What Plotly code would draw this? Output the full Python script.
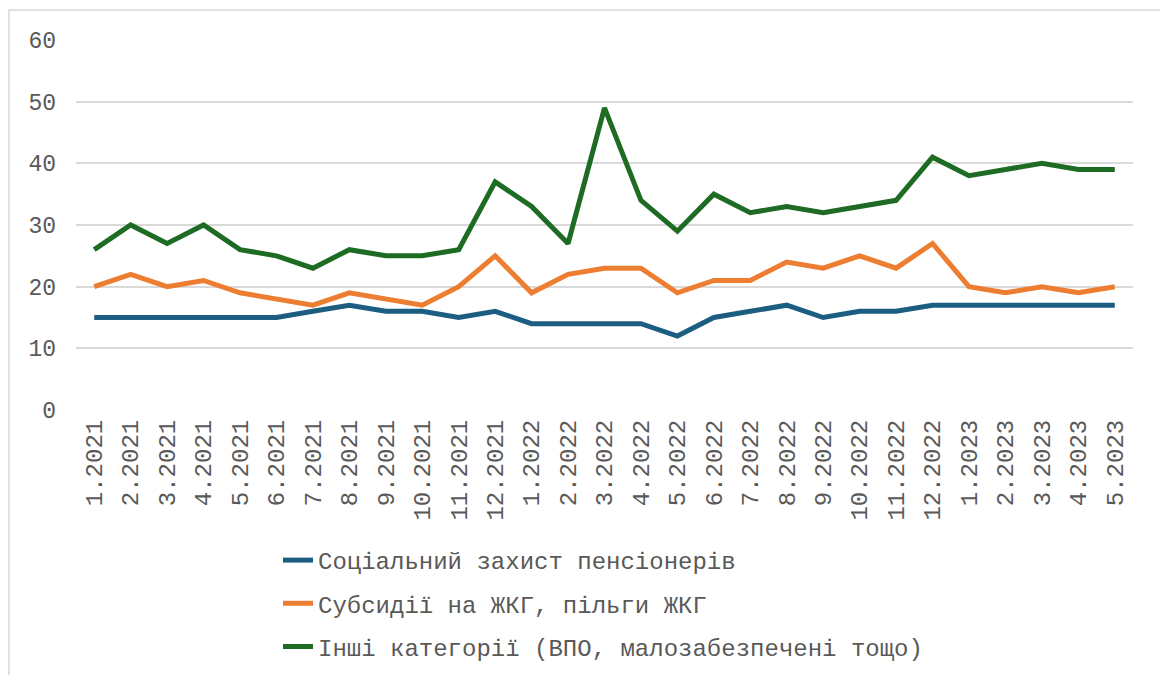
import plotly.graph_objects as go

categories = ["1.2021", "2.2021", "3.2021", "4.2021", "5.2021", "6.2021", "7.2021", "8.2021",
              "9.2021", "10.2021", "11.2021", "12.2021", "1.2022", "2.2022", "3.2022", "4.2022",
              "5.2022", "6.2022", "7.2022", "8.2022", "9.2022", "10.2022", "11.2022", "12.2022",
              "1.2023", "2.2023", "3.2023", "4.2023", "5.2023"]

pensioners = [15, 15, 15, 15, 15, 15, 16, 17, 16, 16, 15, 16, 14, 14, 14, 14, 12, 15, 16, 17,
              15, 16, 16, 17, 17, 17, 17, 17, 17]
subsidies = [20, 22, 20, 21, 19, 18, 17, 19, 18, 17, 20, 25, 19, 22, 23, 23, 19, 21, 21, 24,
             23, 25, 23, 27, 20, 19, 20, 19, 20]
others = [26, 30, 27, 30, 26, 25, 23, 26, 25, 25, 26, 37, 33, 27, 49, 34, 29, 35, 32, 33,
          32, 33, 34, 41, 38, 39, 40, 39, 39]

names = ["Соціальний захист пенсіонерів",
         "Субсидії на ЖКГ, пільги ЖКГ",
         "Інші категорії (ВПО, малозабезпечені тощо)"]
colors = ["#1B5E82", "#ED7D31", "#1E6B24"]
yticks = [0, 10, 20, 30, 40, 50, 60]

FONT = "Courier New, Liberation Mono, monospace"
TXT = "#595959"

# page body has an 8px margin; figure is sized/positioned to compensate
W, H = 1160, 667
L, R, T, B = 68, 35, 32, 265
PW, PH = W - L - R, H - T - B

fig = go.Figure()
for i, (nm, vals, col) in enumerate(zip(names, [pensioners, subsidies, others], colors)):
    fig.add_trace(go.Scatter(
        x=categories, y=vals, name=nm, mode="lines",
        line=dict(color=col, width=5),
        legendgroup=f"g{i}",
    ))

fig.update_layout(
    width=W, height=H,
    margin=dict(l=L, r=R, t=T, b=B, autoexpand=False),
    paper_bgcolor="white", plot_bgcolor="white",
    font=dict(family=FONT, color=TXT),
    showlegend=True,
    legend=dict(
        x=(270 - L) / PW, y=(T + PH - 530) / PH, xanchor="left", yanchor="top",
        orientation="v", traceorder="grouped", tracegroupgap=9,
        font=dict(family=FONT, size=24, color=TXT),
        bgcolor="rgba(0,0,0,0)",
    ),
    xaxis=dict(
        type="category", range=[-0.5, len(categories) - 0.5],
        tickangle=-90, showgrid=False, zeroline=False, showline=False,
        ticks="", tickfont=dict(family=FONT, size=24, color=TXT), ticklabelstandoff=4,
    ),
    yaxis=dict(
        range=[0, 60], tickvals=yticks, showgrid=True, gridcolor="#D9D9D9", gridwidth=1.5,
        zeroline=False, showline=False, ticks="",
        tickfont=dict(family=FONT, size=23, color=TXT), ticklabelstandoff=19,
    ),
    shapes=[dict(
        type="rect", xref="paper", yref="paper",
        x0=(1 - L) / PW, x1=(1153 - L) / PW,
        y0=(T + PH - 700) / PH, y1=(T + PH - 2) / PH,
        line=dict(color="#D9D9D9", width=1.5), fillcolor="rgba(0,0,0,0)", layer="below",
    )],
)

fig.write_html("out.html")
